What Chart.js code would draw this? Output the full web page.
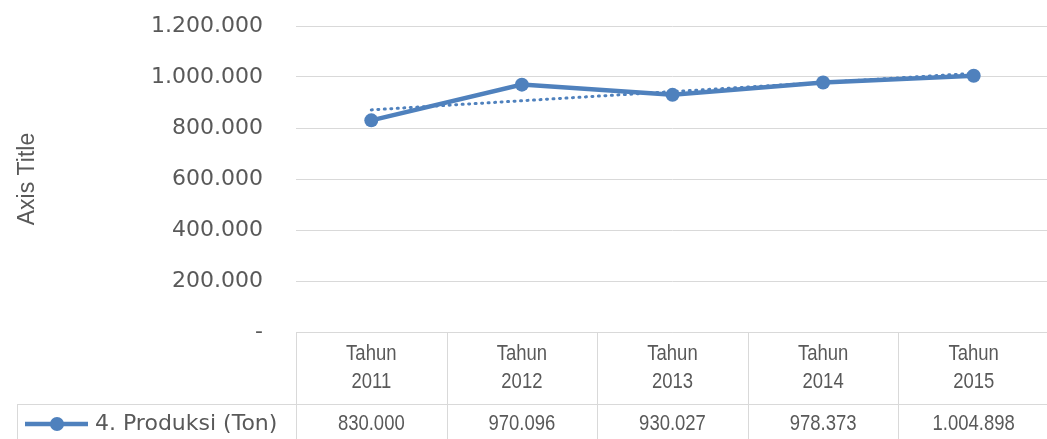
<!DOCTYPE html>
<html>
<head>
<meta charset="utf-8">
<script src="https://cdn.jsdelivr.net/npm/chart.js@4.4.1/dist/chart.umd.min.js"></script>
<style>
  html, body { margin: 0; padding: 0; background: #fff; overflow: hidden; }
  #wrap { width: 1056px; height: 446px; position: relative; }
</style>
</head>
<body>
<div id="wrap"><canvas id="chart"></canvas></div>
<script>
const years = ['Tahun 2011', 'Tahun 2012', 'Tahun 2013', 'Tahun 2014', 'Tahun 2015'];
const produksi = [830000, 970096, 930027, 978373, 1004898];
const seriesName = '4. Produksi (Ton)';
const yTicks = [0, 200000, 400000, 600000, 800000, 1000000, 1200000];
const axisTitle = 'Axis Title';

const blue = '#4f81bd';
const grid = '#d9d9d9';
const textGrey = '#595959';
const tableFont = '22px "Liberation Sans", Arial, sans-serif';
const legendFont = '22px "DejaVu Sans", sans-serif';
const squeeze = 0.84; // narrow the table text a bit, like Calibri

const fmt = n => String(Math.round(n)).replace(/\B(?=(\d{3})+(?!\d))/g, '.');

// linear trendline (least squares) like Excel's
const n = produksi.length;
const mx = (n - 1) / 2;
const my = produksi.reduce((a, b) => a + b, 0) / n;
let sxy = 0, sxx = 0;
produksi.forEach((v, i) => { sxy += (i - mx) * (v - my); sxx += (i - mx) * (i - mx); });
const slope = sxy / sxx;
const trend = produksi.map((v, i) => my + slope * (i - mx));

function narrowText(ctx, txt, x, y) {
  ctx.save();
  ctx.translate(x, y);
  ctx.scale(squeeze, 1);
  ctx.fillText(txt, 0, 0);
  ctx.restore();
}

// data table under the plot
const dataTable = {
  id: 'dataTable',
  afterDraw(chart) {
    const { ctx, chartArea, scales: { x } } = chart;
    const top = chartArea.bottom;
    const half = (x.getPixelForValue(1) - x.getPixelForValue(0)) / 2;
    const row2 = top + 72;
    const bottom = chart.height;
    const legendLeft = 17;

    ctx.save();
    ctx.strokeStyle = grid;
    ctx.lineWidth = 1;
    ctx.beginPath();
    for (let i = 0; i <= years.length; i++) {
      const xx = Math.round(x.getPixelForValue(i) - half) + 0.5;
      ctx.moveTo(xx, top);
      ctx.lineTo(xx, bottom);
    }
    ctx.moveTo(chartArea.left, Math.round(top) + 0.5);
    ctx.lineTo(chartArea.right, Math.round(top) + 0.5);
    ctx.moveTo(legendLeft, Math.round(row2) + 0.5);
    ctx.lineTo(chartArea.right, Math.round(row2) + 0.5);
    ctx.moveTo(legendLeft + 0.5, row2);
    ctx.lineTo(legendLeft + 0.5, bottom);
    ctx.stroke();

    ctx.fillStyle = textGrey;
    ctx.font = tableFont;
    ctx.textAlign = 'center';
    ctx.textBaseline = 'middle';
    years.forEach((lab, i) => {
      const cx = x.getPixelForValue(i);
      const parts = lab.split(' ');
      narrowText(ctx, parts[0], cx, top + 22);
      narrowText(ctx, parts[1], cx, top + 50);
      narrowText(ctx, fmt(produksi[i]), cx, row2 + 20);
    });

    // legend key
    const ly = row2 + 20;
    ctx.strokeStyle = blue;
    ctx.lineWidth = 4.5;
    ctx.beginPath();
    ctx.moveTo(25, ly);
    ctx.lineTo(88, ly);
    ctx.stroke();
    ctx.fillStyle = blue;
    ctx.beginPath();
    ctx.arc(57, ly, 7, 0, Math.PI * 2);
    ctx.fill();
    ctx.fillStyle = textGrey;
    ctx.font = legendFont;
    ctx.textAlign = 'left';
    ctx.fillText(seriesName, 95, ly);
    ctx.restore();
  }
};

new Chart(document.getElementById('chart'), {
  type: 'line',
  data: {
    labels: years,
    datasets: [
      {
        label: seriesName,
        data: produksi,
        borderColor: blue,
        backgroundColor: blue,
        borderWidth: 4.5,
        pointRadius: 7,
        pointBackgroundColor: blue,
        pointBorderWidth: 0,
        tension: 0,
        order: 1
      },
      {
        label: 'Linear',
        data: trend,
        borderColor: blue,
        borderWidth: 3,
        borderDash: [1, 5.5],
        borderCapStyle: 'round',
        pointRadius: 0,
        tension: 0,
        order: 2
      }
    ]
  },
  options: {
    responsive: true,
    maintainAspectRatio: false,
    animation: false,
    layout: { padding: { top: 26, right: 0, bottom: 114, left: 0 } },
    plugins: { legend: { display: false }, tooltip: { enabled: false } },
    scales: {
      x: { display: false, offset: true },
      y: {
        min: 0,
        max: 1200000,
        afterBuildTicks: s => { s.ticks = yTicks.map(v => ({ value: v })); },
        afterFit: s => { s.width = 296; },
        grid: { color: grid, drawTicks: true, tickLength: 33, tickColor: 'rgba(0,0,0,0)' },
        border: { display: false },
        ticks: {
          padding: 0,
          color: textGrey,
          font: { family: 'DejaVu Sans', size: 22 },
          callback: v => v === 0 ? '-' : fmt(v)
        },
        title: {
          display: true,
          text: axisTitle,
          color: textGrey,
          font: { family: 'Liberation Sans', size: 23 },
          padding: { top: 14, bottom: 0 }
        }
      }
    }
  },
  plugins: [dataTable]
});
</script>
</body>
</html>
